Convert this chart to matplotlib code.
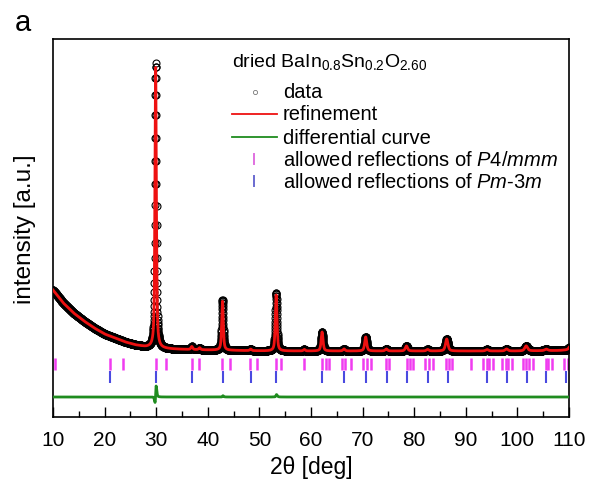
import numpy as np
import matplotlib
matplotlib.use("Agg")
import matplotlib.pyplot as plt
from matplotlib.lines import Line2D

plt.rcParams['font.family'] = ['Liberation Sans', 'DejaVu Sans']
plt.rcParams['mathtext.fontset'] = 'custom'
plt.rcParams['mathtext.rm'] = 'Liberation Sans'
plt.rcParams['mathtext.it'] = 'Liberation Sans:italic'

# ---- data (arbitrary intensity units) ----
bg_x = [10, 12, 14, 16, 18, 20, 22, 24, 26, 28, 30, 33, 36, 40, 46, 52, 60, 70, 80, 90, 100, 108, 110]
bg_y = [127, 114, 104, 96, 89, 83, 79, 75, 72, 70, 69, 68, 67.5, 67, 66.5, 66, 66, 66, 66, 66, 66, 66.5, 67]

peak_pos = [29.9, 36.9, 38.4, 42.85, 48.3, 53.25, 58.7, 62.15, 66.4, 70.6, 74.6, 78.5, 82.6, 86.3, 94.1, 97.9, 101.7, 105.6, 110.4]
peak_obs = [285, 3, 2, 50, 1.5, 58, 1.5, 19, 2, 14, 2, 5, 1.5, 12, 1.5, 2, 5, 1.5, 6]
peak_calc = [281, 3, 2, 49, 1.5, 56, 1.5, 19, 2, 14, 2, 5, 1.5, 12, 1.5, 2, 5, 1.5, 6]
peak_calc_shift = [-0.007, 0, 0, -0.003, 0, -0.004, 0, 0, 0, 0, 0, 0, 0, 0.003, 0, 0, 0, 0, 0]
peak_fwhm = [0.32, 0.4, 0.4, 0.36, 0.4, 0.38, 0.4, 0.42, 0.45, 0.46, 0.5, 0.52, 0.55, 0.56, 0.6, 0.62, 0.65, 0.68, 0.7]

refl_p4mmm = [10.4, 21.0, 23.6, 30.0, 31.9, 36.9, 38.3, 42.8, 44.3, 48.2, 49.5, 53.2, 54.2, 58.6,
              62.1, 62.9, 63.5, 66.0, 66.6, 67.8, 70.1, 70.9, 71.6, 74.5, 75.1, 78.6, 79.2, 79.8,
              82.1, 82.9, 83.6, 86.2, 86.7, 87.3, 91.0, 93.3, 94.1, 94.5, 95.3, 97.0, 97.8, 98.2,
              99.0, 101.1, 101.7, 102.2, 103.0, 105.5, 106.0, 106.7, 109.0, 109.8]
refl_pm3m = [21.1, 30.0, 37.0, 42.9, 48.3, 53.3, 62.1, 66.4, 70.6, 74.7, 78.7, 82.6, 86.5,
             94.2, 98.0, 101.8, 105.6, 109.4]

legend_title = r'dried BaIn$_{0.8}$Sn$_{0.2}$O$_{2.60}$'
legend_labels = ['data', 'refinement', 'differential curve',
                 r'allowed reflections of $\mathit{P4/mmm}$',
                 r'allowed reflections of $\mathit{Pm}$-3$\mathit{m}$']

diff_offset = 20

# ---- build profiles from the read peak list ----
tt = np.arange(10, 110.001, 0.02)
bg = np.interp(tt, bg_x, bg_y)

def profile(pos, hts, shifts):
    y = bg.copy()
    for p, h, s, w in zip(pos, hts, shifts, peak_fwhm):
        g = w / 2.0
        lor = 1.0 / (1.0 + ((tt - p - s) / g) ** 2)
        gau = np.exp(-np.log(2) * ((tt - p - s) / g) ** 2)
        y += h * (0.6 * lor + 0.4 * gau)
    return y

obs = profile(peak_pos, peak_obs, [0] * len(peak_pos))
calc = profile(peak_pos, peak_calc, peak_calc_shift)
diff = obs - calc + diff_offset

W, H = 590, 481
fig = plt.figure(figsize=(W / 100, H / 100), dpi=100)
ax = fig.add_axes([53 / W, 1 - 418 / H, (569 - 53) / W, (418 - 40) / H])

ax.plot(tt, obs, ls='none', marker='o', ms=5, mfc='none', mec='black', mew=0.8, zorder=2)
ax.plot(tt, calc, color='#ee1111', lw=2.0, zorder=3)
ax.plot(tt, diff, color='#1f8c1f', lw=2.0, zorder=3)
ax.vlines(refl_p4mmm, 47, 59, color='#f03cf0', lw=1.8, zorder=2)
ax.vlines(refl_pm3m, 34, 46, color='#4a4ae0', lw=1.5, zorder=2)

ax.set_xlim(10, 110)
ax.set_ylim(0, 378)
ax.set_xticks(np.arange(10, 111, 10))
ax.set_xticks(np.arange(15, 110, 10), minor=True)
ax.set_yticks([])
ax.tick_params(axis='x', which='major', direction='in', length=7, width=1, labelsize=15, pad=9)
ax.tick_params(axis='x', which='minor', direction='in', length=4, width=1)
for s in ax.spines.values():
    s.set_linewidth(1.2)

ax.set_xlabel('2θ [deg]', fontsize=16.5, labelpad=4.5)
ax.set_ylabel('intensity [a.u.]', fontsize=17.5, labelpad=12)
fig.text(23 / W, 1 - 23 / H, 'a', fontsize=21, ha='center', va='center')

# ---- legend drawn at the reference's pixel positions ----
def fx(px):
    return px / W

def fy(py):
    return 1 - py / H

fs = 14.5
fig.text(fx(232), fy(62), legend_title, fontsize=14, ha='left', va='center')
row_y = [93, 115, 138, 160, 182]
for yy, lab in zip(row_y, legend_labels):
    fig.text(fx(283), fy(yy), lab, fontsize=fs, ha='left', va='center')
fig.add_artist(Line2D([fx(255)], [fy(row_y[0])], ls='none', marker='o', ms=3,
                      mfc='none', mec='#777777', mew=0.6))
fig.add_artist(Line2D([fx(232), fx(277)], [fy(row_y[1])] * 2, color='#ee1111', lw=1.3))
fig.add_artist(Line2D([fx(232), fx(277)], [fy(row_y[2])] * 2, color='#1f8c1f', lw=1.3))
fig.add_artist(Line2D([fx(254), fx(254)], [fy(row_y[3] - 5), fy(row_y[3] + 5)], color='#e070e0', lw=1.4))
fig.add_artist(Line2D([fx(254), fx(254)], [fy(row_y[4] - 5), fy(row_y[4] + 5)], color='#6a6ad0', lw=1.4))

fig.savefig('out.png', dpi=100)
